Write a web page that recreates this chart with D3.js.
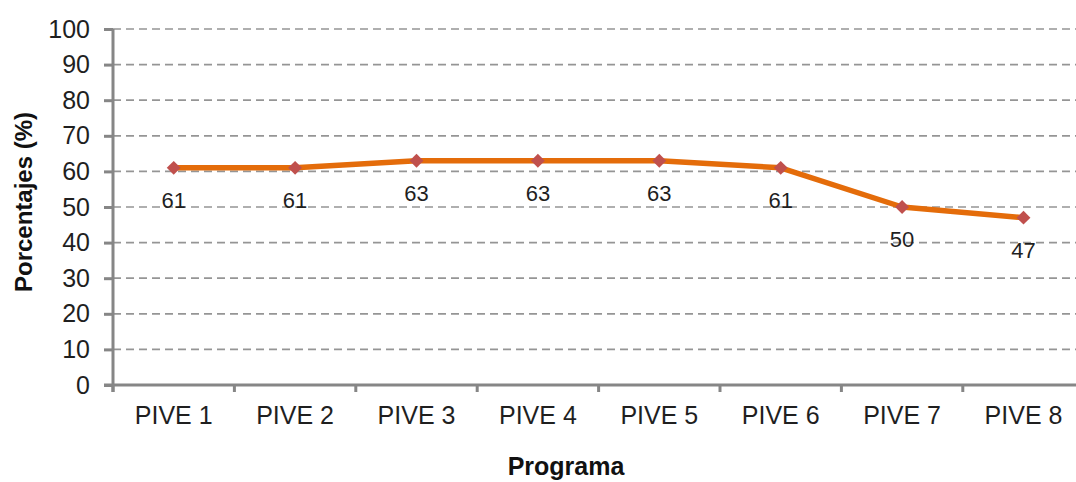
<!DOCTYPE html>
<html>
<head>
<meta charset="utf-8">
<script src="https://cdn.jsdelivr.net/npm/d3@7"></script>
<style>
  html, body { margin: 0; padding: 0; background: #fff; overflow: hidden; }
  svg { display: block; font-family: "Liberation Sans", Arial, sans-serif; }
</style>
</head>
<body>
<svg id="chart" width="1076" height="482"></svg>
<script>
// Share of each programme, in percent
const programas = ["PIVE 1", "PIVE 2", "PIVE 3", "PIVE 4", "PIVE 5", "PIVE 6", "PIVE 7", "PIVE 8"];
const porcentajes = [61, 61, 63, 63, 63, 61, 50, 47];
const yTicks = [0, 10, 20, 30, 40, 50, 60, 70, 80, 90, 100];
const xTitle = "Programa";
const yTitle = "Porcentajes (%)";

const svg = d3.select("#chart");
const plotLeft = 113, plotTop = 29, plotBottom = 385;
const step = 121.4;
const plotRight = plotLeft + step * programas.length;

const x = d3.scaleBand().domain(programas).range([plotLeft, plotRight]).padding(0);
const y = d3.scaleLinear().domain([0, 100]).range([plotBottom, plotTop]);
const cx = d => x(d) + x.bandwidth() / 2;

const axisColor = "#868686";
const textColor = "#1f1f1f";

// dashed horizontal gridlines
svg.append("g")
  .selectAll("line")
  .data(yTicks.filter(t => t > 0))
  .join("line")
  .attr("x1", plotLeft).attr("x2", plotRight)
  .attr("y1", d => y(d)).attr("y2", d => y(d))
  .attr("stroke", "#959595")
  .attr("stroke-width", 1.7)
  .attr("stroke-dasharray", "8,5");

// y axis
const yAxis = svg.append("g")
  .attr("transform", `translate(${plotLeft},0)`)
  .call(d3.axisLeft(y).tickValues(yTicks).tickSize(9).tickPadding(14));
yAxis.select(".domain").attr("d", `M0,${plotTop}V${plotBottom + 7}`);

// x axis
const xAxis = svg.append("g")
  .attr("transform", `translate(0,${plotBottom})`)
  .call(d3.axisBottom(x).tickSize(0).tickPadding(21));
xAxis.select(".domain").attr("d", `M${plotLeft - 9},0H${plotRight}`);
xAxis.selectAll(".sep")
  .data(d3.range(programas.length + 1))
  .join("line")
  .attr("class", "sep")
  .attr("x1", i => plotLeft + i * x.step()).attr("x2", i => plotLeft + i * x.step())
  .attr("y1", 0).attr("y2", 7);

[yAxis, xAxis].forEach(g => {
  g.selectAll(".domain, line")
    .attr("stroke", axisColor)
    .attr("stroke-width", 3);
  g.selectAll("text")
    .attr("fill", textColor)
    .style("font-size", "25px");
});

// series line
svg.append("path")
  .datum(porcentajes)
  .attr("fill", "none")
  .attr("stroke", "#E46C0A")
  .attr("stroke-width", 5.5)
  .attr("stroke-linejoin", "round")
  .attr("d", d3.line().x((d, i) => cx(programas[i])).y(d => y(d)));

// diamond markers
svg.append("g")
  .selectAll("path")
  .data(porcentajes)
  .join("path")
  .attr("d", d3.symbol(d3.symbolSquare, 96))
  .attr("transform", (d, i) => `translate(${cx(programas[i])},${y(d)}) rotate(45)`)
  .attr("fill", "#C0504D");

// value labels below each point
svg.append("g")
  .selectAll("text")
  .data(porcentajes)
  .join("text")
  .attr("x", (d, i) => cx(programas[i]))
  .attr("y", d => y(d) + 40)
  .attr("text-anchor", "middle")
  .attr("fill", textColor)
  .style("font-size", "22px")
  .text(d => d);

// axis titles
svg.append("text")
  .attr("x", 566).attr("y", 475)
  .attr("text-anchor", "middle")
  .attr("fill", "#111")
  .style("font-size", "25px")
  .style("font-weight", "bold")
  .text(xTitle);

svg.append("text")
  .attr("transform", "translate(32,202) rotate(-90)")
  .attr("text-anchor", "middle")
  .attr("fill", "#111")
  .style("font-size", "24px")
  .style("font-weight", "bold")
  .text(yTitle);
</script>
</body>
</html>
